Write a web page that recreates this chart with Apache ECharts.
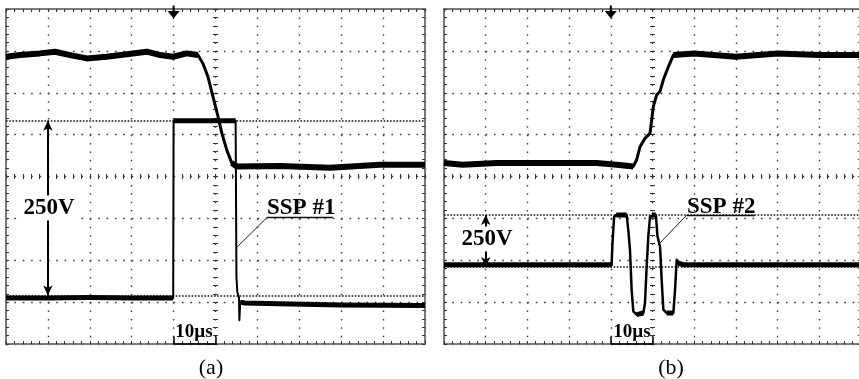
<!DOCTYPE html>
<html><head><meta charset="utf-8">
<script src="https://cdn.jsdelivr.net/npm/echarts@6/dist/echarts.min.js"></script>
<style>html,body{margin:0;padding:0;background:#fff}#c{width:859px;height:379px}</style>
</head><body><div id="c"></div>
<script>
// ---- data, in screen divisions (x: 0..10, y: 0..8) ----
const upperA = [[0,6.86],[0.33,6.90],[0.81,6.94],[1.17,6.98],[1.53,6.90],[1.93,6.82],[2.40,6.86],[2.88,6.92],[3.36,6.98],[3.68,6.90],[3.99,6.86],[4.31,6.94],[4.58,6.90],[4.70,6.70],[4.82,6.38],[4.94,5.91],[5.06,5.43],[5.15,5.04],[5.27,4.63],[5.39,4.32],[5.51,4.24],[6.54,4.25],[7.73,4.21],[8.93,4.28],[10,4.28]];
const pulseA = [[0,1.10],[1,1.10],[2,1.11],[3,1.10],[3.99,1.10],[4.00,5.33],[4.5,5.33],[5.0,5.33],[5.48,5.33],[5.50,1.60],[5.52,1.25],[5.56,1.10],[5.57,0.57],[5.59,1.00],[5.70,0.98],[6.5,0.96],[8,0.93],[10,0.92]];
const upperB = [[0,4.32],[0.45,4.28],[1.26,4.32],[2.06,4.32],[2.86,4.32],[3.66,4.32],[4.14,4.28],[4.54,4.24],[4.62,4.40],[4.70,4.71],[4.82,4.91],[4.94,5.03],[4.98,5.35],[5.02,5.67],[5.10,5.95],[5.18,6.03],[5.26,6.31],[5.38,6.62],[5.50,6.90],[6.0,6.94],[7.0,6.86],[8.0,6.94],[9.0,6.90],[10,6.90]];
const pulseB = [[0,1.89],[1,1.89],[2,1.89],[3,1.89],[4.02,1.89],[4.04,2.41],[4.08,3.04],[4.13,3.08],[4.38,3.08],[4.42,2.72],[4.46,2.25],[4.50,1.29],[4.54,0.78],[4.62,0.70],[4.78,0.74],[4.82,0.98],[4.86,1.85],[4.90,2.57],[4.94,3.04],[4.98,3.08],[5.08,3.08],[5.12,2.57],[5.18,2.33],[5.22,1.53],[5.26,0.82],[5.34,0.74],[5.50,0.74],[5.54,1.29],[5.58,2.01],[5.62,1.93],[5.75,1.89],[7,1.89],[8.5,1.89],[10,1.89]];
const refLevelsA = [5.33, 1.16];
const refLevelsB = [3.08, 1.84];
const arrowXA = 1, arrowXB = 1;
const triggerX = [4, 4];
const scaleBar = [4, 5];
const leaderA = [[6.23,3.02],[5.52,2.32]];
const underlineA = [[6.23,3.02],[7.80,3.02]];
const leaderB = [[5.82,3.08],[5.13,2.36]];
const underlineB = [[5.82,3.08],[7.45,3.08]];
const labels = { volt: '250V', sspA: 'SSP #1', sspB: 'SSP #2', time: '10\u00b5s', capA: '(a)', capB: '(b)' };

// ---- layout / style ----
const G = [{left:6, top:9, width:419, height:335},{left:444, top:9, width:417, height:335}];
const BORDER = '#7a7a7a', TICK = '#333', DOT = '#3a3a3a';
const SERIF = "'Liberation Serif','Times New Roman',serif";

function axesX(g){
  const H = G[g].height;
  const base = {type:'value', gridIndex:g, min:0, max:10, interval:1, axisLabel:{show:false}, splitLine:{show:false}};
  const tk = {show:true, inside:true, length:3, lineStyle:{color:TICK, width:1}};
  const mt = {show:true, splitNumber:5, length:3, lineStyle:{color:TICK, width:1}};
  return [
    Object.assign({}, base, {position:'bottom', axisLine:{show:true,onZero:false,lineStyle:{color:BORDER,width:2}}, axisTick:tk, minorTick:mt,
      splitLine:{show:true, lineStyle:{type:[1.6, H/40-1.6], color:DOT, width:1.4}}}),
    Object.assign({}, base, {position:'top', axisLine:{show:true,onZero:false,lineStyle:{color:BORDER,width:2}}, axisTick:tk, minorTick:mt}),
    Object.assign({}, base, {position:'bottom', offset:-(H/2-2.5), axisLine:{show:false,onZero:false},
      axisTick:{show:true, inside:true, length:5, lineStyle:{color:TICK,width:1}}, minorTick:{show:true, splitNumber:5, length:5, lineStyle:{color:TICK,width:1}}})
  ];
}
function axesY(g){
  const W = G[g].width;
  const base = {type:'value', gridIndex:g, min:0, max:8, interval:1, axisLabel:{show:false}, splitLine:{show:false}};
  const tk = {show:true, inside:true, length:3, lineStyle:{color:TICK, width:1}};
  const mt = {show:true, splitNumber:5, length:3, lineStyle:{color:TICK, width:1}};
  return [
    Object.assign({}, base, {position:'left', axisLine:{show:true,onZero:false,lineStyle:{color:BORDER,width:2}}, axisTick:tk, minorTick:mt,
      splitLine:{show:true, lineStyle:{type:[1.6, W/50-1.6], color:DOT, width:1.4}}}),
    Object.assign({}, base, {position:'right', axisLine:{show:true,onZero:false,lineStyle:{color:BORDER,width:2}}, axisTick:tk, minorTick:mt}),
    Object.assign({}, base, {position:'left', offset:-(W/2-2.5), axisLine:{show:false,onZero:false},
      axisTick:{show:true, inside:true, length:5, lineStyle:{color:TICK,width:1}}, minorTick:{show:true, splitNumber:5, length:5, lineStyle:{color:TICK,width:1}}})
  ];
}

// near-horizontal parts of a trace (drawn thicker, like the noisy band)
function flatBand(d){
  const out = []; let lastEnd = -1;
  for (let i = 0; i < d.length-1; i++) {
    const a = d[i], b = d[i+1];
    if (Math.abs(b[1]-a[1]) <= 0.8*(b[0]-a[0])) {
      if (lastEnd !== i) {
        if (out.length) out.push([(a[0]+out[out.length-1][0])/2, null]);
        out.push(a);
      }
      out.push(b); lastEnd = i+1;
    }
  }
  return out;
}

function traceSeries(g, data, thin, band){
  const ax = {xAxisIndex:3*g, yAxisIndex:3*g};
  return [
    Object.assign({type:'line', data:data, showSymbol:false, symbol:'none', z:5,
      lineStyle:{color:'#000', width:thin, join:'round'}}, ax),
    Object.assign({type:'line', data:flatBand(data), showSymbol:false, symbol:'none', connectNulls:false, z:5,
      lineStyle:{color:'#000', width:band, cap:'butt', join:'round'}}, ax)
  ];
}

function marks(g, levels, arrowX, leader, underline){
  const ax = {xAxisIndex:3*g, yAxisIndex:3*g};
  const dotted = {type:[1.6,1.6], color:'#111', width:1.6};
  const thinSolid = {type:'solid', color:'#222', width:1};
  const data = [
    {yAxis:levels[0], lineStyle:dotted},
    {yAxis:levels[1], lineStyle:dotted},
    [{coord:[arrowX, levels[1]], symbol:'arrow'}, {coord:[arrowX, levels[0]], symbol:'arrow', lineStyle:{type:'solid', color:'#000', width:2}}],
    [{coord:leader[0], symbol:'none'}, {coord:leader[1], symbol:'none', lineStyle:thinSolid}],
    [{coord:underline[0], symbol:'none'}, {coord:underline[1], symbol:'none', lineStyle:{type:'solid', color:'#111', width:1.3}}],
    [{coord:[scaleBar[0],0], symbol:'none'}, {coord:[scaleBar[0],0.18], symbol:'none', lineStyle:{type:'solid', color:'#000', width:1.5}}],
    [{coord:[scaleBar[1],0], symbol:'none'}, {coord:[scaleBar[1],0.18], symbol:'none', lineStyle:{type:'solid', color:'#000', width:1.5}}],
    [{coord:[scaleBar[0],0], symbol:'none'}, {coord:[scaleBar[1],0], symbol:'none', lineStyle:{type:'solid', color:'#000', width:1.5}}]
  ];
  return Object.assign({type:'line', data:[], z:6,
    markLine:{silent:true, symbol:'none', symbolSize:[7,10], label:{show:false}, animation:false, data:data},
    markPoint:{silent:true, symbol:'path://M5,0 L7,0 L7,5 L12,5 L6,12 L0,5 L5,5 Z', symbolSize:[12,13], symbolOffset:[0,3],
      itemStyle:{color:'#000'}, label:{show:false}, data:[{coord:[triggerX[g], 8]}]}
  }, ax);
}

function txt(x, y, text, size, bold, align, bg){
  const st = {text:text, x:x, y:y, fill:'#000', font:(bold?'bold ':'')+size+'px '+SERIF, textAlign:align||'center', textVerticalAlign:'middle'};
  if (bg) { st.backgroundColor = '#fff'; st.padding = [1,1]; }
  return {type:'text', z:100, style:st};
}

const chart = echarts.init(document.getElementById('c'), null, {renderer:'canvas'});
chart.setOption({
  animation:false,
  backgroundColor:'#fff',
  grid: G.map(g => Object.assign({outerBoundsMode:'none', containLabel:false}, g)),
  xAxis: axesX(0).concat(axesX(1)),
  yAxis: axesY(0).concat(axesY(1)),
  series: [].concat(
    traceSeries(0, upperA, 3, 6),
    traceSeries(0, pulseA, 2, 5),
    traceSeries(1, upperB, 3, 6),
    traceSeries(1, pulseB, 2.5, 5),
    [marks(0, refLevelsA, arrowXA, leaderA, underlineA), marks(1, refLevelsB, arrowXB, leaderB, underlineB)]
  ),
  graphic: [
    txt(49, 208, labels.volt, 23, true, 'center', true),
    txt(267, 208, labels.sspA, 23, true, 'left', false),
    txt(194, 332.5, labels.time, 19, true, 'center', false),
    txt(487, 239, labels.volt, 23, true, 'center', true),
    txt(687, 207, labels.sspB, 23, true, 'left', false),
    txt(632, 332.5, labels.time, 19, true, 'center', false),
    txt(211, 368, labels.capA, 22, false, 'center', false),
    txt(671, 368, labels.capB, 22, false, 'center', false)
  ]
});
</script></body></html>
